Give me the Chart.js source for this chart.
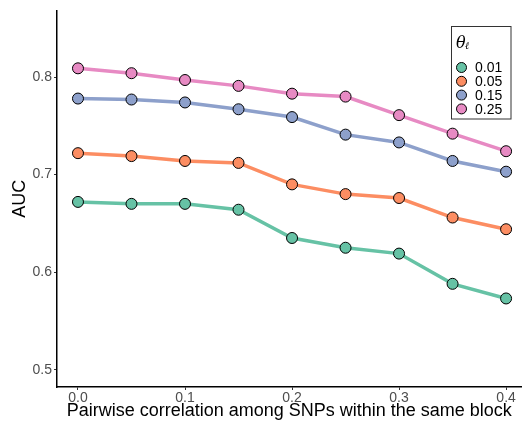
<!DOCTYPE html>
<html>
<head>
<meta charset="utf-8">
<script src="https://cdn.jsdelivr.net/npm/chart.js@4"></script>
<style>
  body { margin: 0; background: #fff; }
  #wrap { width: 528px; height: 427px; }
</style>
</head>
<body>
<div id="wrap"><canvas id="auc" width="528" height="427"></canvas></div>
<script>
// correlation levels on the x axis
var rho = [0, 0.05, 0.1, 0.15, 0.2, 0.25, 0.3, 0.35, 0.4]
// theta levels, one line each
var thetas = ['0.01', '0.05', '0.15', '0.25']
var colores = ['#66c2a5', '#fc8d62', '#8da0cb', '#e78ac3']

var auc_001 = [0.672, 0.670, 0.670, 0.664, 0.635, 0.625, 0.619, 0.588, 0.573]
var auc_005 = [0.722, 0.719, 0.714, 0.712, 0.690, 0.680, 0.676, 0.656, 0.644]
var auc_015 = [0.778, 0.777, 0.774, 0.767, 0.759, 0.741, 0.733, 0.714, 0.703]
var auc_025 = [0.809, 0.804, 0.797, 0.791, 0.783, 0.780, 0.761, 0.742, 0.724]
var series = [auc_001, auc_005, auc_015, auc_025]

var xTicks = [0, 0.1, 0.2, 0.3, 0.4]
var yTicks = [0.5, 0.6, 0.7, 0.8]

var fuente = '"Liberation Sans", Arial, sans-serif'

var datasets = series.map(function (vals, i) {
    return {
        label: thetas[i],
        data: vals.map(function (v, j) { return { x: rho[j], y: v } }),
        borderColor: colores[i],
        backgroundColor: colores[i],
        borderWidth: 3.5,
        pointRadius: 5.5,
        pointHoverRadius: 5.5,
        pointBackgroundColor: colores[i],
        pointBorderColor: '#000',
        pointBorderWidth: 1,
        tension: 0
    }
})

// legend box drawn inside the plot, top right
var leyenda = {
    id: 'leyenda',
    afterDraw: function (chart) {
        var ctx = chart.ctx
        ctx.save()
        ctx.strokeStyle = '#333'
        ctx.lineWidth = 1
        ctx.strokeRect(451.5, 26.5, 59.5, 92.5)

        ctx.fillStyle = '#000'
        ctx.textBaseline = 'alphabetic'
        ctx.textAlign = 'left'
        ctx.font = 'italic 16px "DejaVu Serif", serif'
        ctx.fillText('\u03b8', 456, 48)
        ctx.font = 'italic 10px "DejaVu Serif", serif'
        ctx.fillText('\u2113', 465, 49)

        chart.data.datasets.forEach(function (ds, i) {
            var y = 67.5 + i * 13.8
            ctx.beginPath()
            ctx.arc(461.5, y, 5, 0, Math.PI * 2)
            ctx.fillStyle = ds.pointBackgroundColor
            ctx.fill()
            ctx.strokeStyle = '#000'
            ctx.lineWidth = 1
            ctx.stroke()
            ctx.fillStyle = '#000'
            ctx.font = '14px ' + fuente
            ctx.textBaseline = 'middle'
            ctx.fillText(ds.label, 475, y + 1)
        })
        ctx.restore()
    }
}

new Chart('auc', {
    type: 'line',
    data: { datasets: datasets },
    plugins: [leyenda],
    options: {
        responsive: false,
        animation: false,
        layout: { padding: 0 },
        plugins: {
            legend: { display: false },
            tooltip: { enabled: false }
        },
        scales: {
            x: {
                type: 'linear',
                min: -0.0196,
                max: 0.4144,
                afterBuildTicks: function (s) { s.ticks = xTicks.map(function (v) { return { value: v } }) },
                afterFit: function (s) { s.height = 40 },
                border: { display: true, color: '#000', width: 1.5 },
                grid: { drawOnChartArea: false, drawTicks: true, tickLength: 3, tickColor: '#333', lineWidth: 1 },
                ticks: {
                    padding: 0,
                    color: '#4d4d4d',
                    font: { family: fuente, size: 14 },
                    callback: function (v) { return v.toFixed(1) }
                },
                title: {
                    display: true,
                    text: 'Pairwise correlation among SNPs within the same block',
                    color: '#000',
                    font: { family: fuente, size: 18 },
                    padding: { top: 0, bottom: 5 }
                }
            },
            y: {
                min: 0.4822,
                max: 0.8684,
                afterBuildTicks: function (s) { s.ticks = yTicks.map(function (v) { return { value: v } }) },
                afterFit: function (s) { s.width = 57 },
                border: { display: true, color: '#000', width: 1.5 },
                grid: { drawOnChartArea: false, drawTicks: true, tickLength: 3, tickColor: '#333', lineWidth: 1 },
                ticks: {
                    padding: 2,
                    color: '#4d4d4d',
                    font: { family: fuente, size: 14 },
                    callback: function (v) { return v.toFixed(1) }
                },
                title: {
                    display: true,
                    text: 'AUC',
                    color: '#000',
                    font: { family: fuente, size: 18 },
                    padding: { top: 9, bottom: 0 }
                }
            }
        }
    }
})
</script>
</body>
</html>
